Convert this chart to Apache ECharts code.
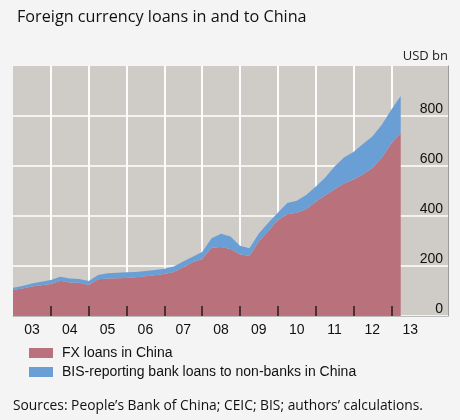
<!DOCTYPE html>
<html><head><meta charset="utf-8">
<script src="https://cdn.jsdelivr.net/npm/echarts@6/dist/echarts.min.js"></script>
<style>html,body{margin:0;padding:0;background:#f4f4f4}#c{width:460px;height:420px}</style>
</head><body><div id="c"></div>
<script>
// Quarter-end categories; axis runs to 2014Q2 (empty beyond the data)
const quarters = [
  '2002Q4',
  '2003Q1', '2003Q2', '2003Q3', '2003Q4',
  '2004Q1', '2004Q2', '2004Q3', '2004Q4',
  '2005Q1', '2005Q2', '2005Q3', '2005Q4',
  '2006Q1', '2006Q2', '2006Q3', '2006Q4',
  '2007Q1', '2007Q2', '2007Q3', '2007Q4',
  '2008Q1', '2008Q2', '2008Q3', '2008Q4',
  '2009Q1', '2009Q2', '2009Q3', '2009Q4',
  '2010Q1', '2010Q2', '2010Q3', '2010Q4',
  '2011Q1', '2011Q2', '2011Q3', '2011Q4',
  '2012Q1', '2012Q2', '2012Q3', '2012Q4',
  '2013Q1', '2013Q2', '2013Q3', '2013Q4',
  '2014Q1', '2014Q2'
];
// FX loans in China, USD bn
const fxLoans = [
  104,
  110, 118, 123, 128,
  141, 134, 133, 124,
  147, 150, 151, 152,
  155, 159, 163, 168,
  176, 195, 215, 228,
  273, 276, 268, 247,
  240, 298, 340, 384,
  407, 413, 427, 457,
  482, 507, 530, 546,
  566, 592, 633, 690,
  731
];
// BIS-reporting bank loans to non-banks in China, USD bn (stacked on top)
const bisLoans = [
  9,
  10, 12, 14, 16,
  16, 16, 15, 16,
  17, 21, 22, 23,
  21, 21, 21, 21,
  22, 23, 22, 28,
  38, 53, 50, 34,
  31, 32, 33, 29,
  45, 48, 57, 60,
  71, 91, 104, 110,
  122, 126, 132, 135,
  149
];
const labelYears = ['03', '04', '05', '06', '07', '08', '09', '10', '11', '12', '13'];
const yTicks = [0, 200, 400, 600, 800];

const seriesNames = ['FX loans in China', 'BIS-reporting bank loans to non-banks in China'];
const RED = '#b9717b', BLUE = '#6a9fd5';

const catOf = (i, v) => (typeof v === 'string' && v.indexOf('Q') > 0) ? v : quarters[i];
const yearOf = s => parseInt(String(s).slice(0, 4), 10);
const isYearBoundary = (i, v) => { const c = catOf(i, v); return !!c && c.endsWith('Q4') && yearOf(c) >= 2003 && yearOf(c) <= 2012; };
const isYearBoundary2 = (i, v) => { const c = catOf(i, v); return !!c && c.endsWith('Q4') && yearOf(c) >= 2003 && yearOf(c) <= 2012; };
const isMidYear = (i, v) => { const c = catOf(i, v); return !!c && c.endsWith('Q2') && yearOf(c) >= 2003 && yearOf(c) <= 2013; };
const yearBoundaries = quarters.filter((q, i) => isYearBoundary(i, q));

const chart = echarts.init(document.getElementById('c'), null, {renderer: 'canvas'});
chart.setOption({
  animation: false,
  backgroundColor: '#f4f4f4',
  title: {
    text: 'Foreign currency loans in and to China',
    left: 12, top: 4,
    textStyle: {fontFamily: 'Open Sans', fontSize: 16.2, fontWeight: 'normal', color: '#111'}
  },
  grid: {left: 13, right: 12, top: 66, bottom: 104, show: true, backgroundColor: '#cfcbc7', borderWidth: 0},
  legend: {
    data: seriesNames,
    orient: 'vertical', left: 24, top: 341,
    itemWidth: 24, itemHeight: 10, itemGap: 5, icon: 'rect',
    textStyle: {fontFamily: 'Liberation Sans', fontSize: 14, color: '#111', padding: [0, 0, 0, 4]}
  },
  xAxis: [
    {
      type: 'category', data: quarters, boundaryGap: false, position: 'bottom',
      axisLine: {show: false},
      axisTick: {show: true, interval: isYearBoundary, length: 0, lineStyle: {color: 'rgba(0,0,0,0)'}},
      axisLabel: {show: false},
      splitLine: {show: true, interval: isYearBoundary, lineStyle: {color: '#ffffff', width: 1.5}}
    },
    {
      // year-boundary tick marks, over the areas
      type: 'category', data: quarters, boundaryGap: false, position: 'bottom', z: 5,
      axisLine: {show: false},
      axisTick: {show: true, interval: isYearBoundary2, inside: true, length: 10, lineStyle: {color: '#2a1a1c', width: 1.5}},
      axisLabel: {show: false},
      splitLine: {show: false}
    },
    {
      // year labels centred in each year
      type: 'category', data: quarters, boundaryGap: false, position: 'bottom',
      axisLine: {show: true, lineStyle: {color: '#bbb', width: 1}},
      axisTick: {show: false},
      axisLabel: {
        interval: isMidYear,
        formatter: (v, i) => labelYears[yearOf(catOf(i, v)) - 2003],
        fontFamily: 'Liberation Sans', fontSize: 14, color: '#111', margin: 7
      },
      splitLine: {show: false}
    }
  ],
  yAxis: {
    type: 'value', position: 'right', min: 0, max: 1000, interval: 200,
    axisLine: {show: true, lineStyle: {color: '#9a9a9a', width: 1}},
    axisTick: {show: false},
    axisLabel: {
      inside: true, margin: 5, verticalAlign: 'bottom',
      formatter: v => (yTicks.indexOf(v) >= 0 ? String(v) : ''),
      fontFamily: 'Liberation Sans', fontSize: 14, color: '#111'
    },
    splitLine: {show: true, showMaxLine: false, lineStyle: {color: '#ffffff', width: 1.5}}
  },
  graphic: [
    {type: 'text', right: 12, top: 50, style: {text: 'USD bn', fontFamily: 'Open Sans', fontSize: 13, fill: '#222'}},
    {type: 'text', left: 13, top: 399, style: {text: 'Sources: People\u2019s Bank of China; CEIC; BIS; authors\u2019 calculations.', fontFamily: 'Open Sans', fontSize: 13.8, fill: '#111'}}
  ],
  series: [
    {
      // carrier for the vertical year gridlines, drawn beneath the areas
      name: 'gridlines', type: 'line', xAxisIndex: 0, symbol: 'none', silent: true, z: 1,
      data: fxLoans,
      lineStyle: {width: 0, opacity: 0},
      markLine: {
        silent: true, symbol: ['none', 'none'], z: 1, animation: false,
        label: {show: false},
        lineStyle: {color: '#ffffff', width: 1.5, type: 'solid', opacity: 1},
        emphasis: {disabled: true},
        data: yearBoundaries.map(q => ({xAxis: q}))
      }
    },
    {
      name: seriesNames[0], type: 'line', stack: 'total', symbol: 'none', xAxisIndex: 0, z: 2,
      data: fxLoans,
      lineStyle: {width: 0}, itemStyle: {color: RED}, areaStyle: {color: RED, opacity: 1}
    },
    {
      name: seriesNames[1], type: 'line', stack: 'total', symbol: 'none', xAxisIndex: 0, z: 2,
      data: bisLoans,
      lineStyle: {width: 0}, itemStyle: {color: BLUE}, areaStyle: {color: BLUE, opacity: 1}
    }
  ]
});
</script></body></html>
